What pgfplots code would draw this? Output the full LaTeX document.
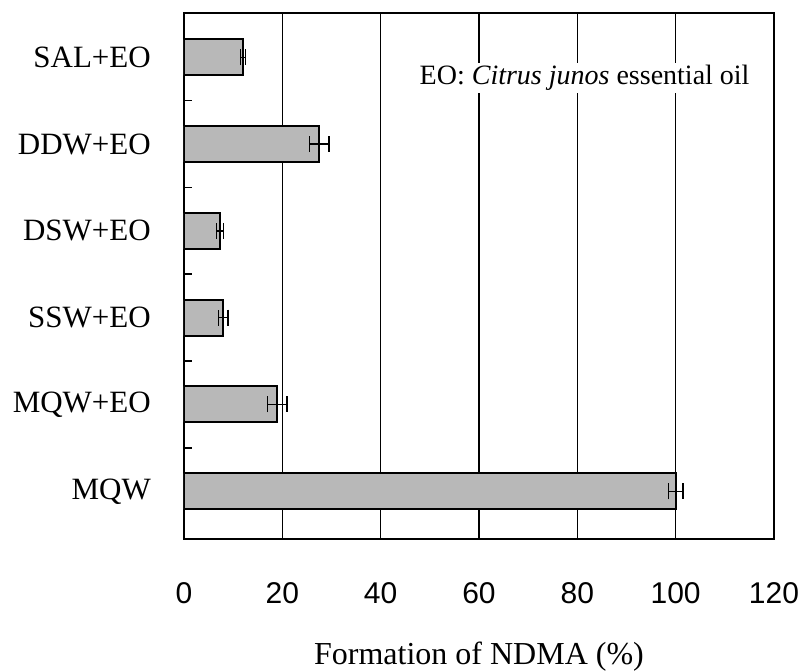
\documentclass[border=0pt]{standalone}
\usepackage{pgfplots}
\pgfplotsset{compat=1.18}
\usepackage{fontspec}
\setmainfont{Liberation Serif}
\setsansfont{Liberation Sans}
\begin{document}
\begin{tikzpicture}
\path[use as bounding box] (-184pt,-132pt) rectangle (620pt,539pt);
\begin{axis}[
 at={(0pt,0pt)}, anchor=south west,
 scale only axis, width=590pt, height=526pt,
 xbar, bar width=36pt,
 xmin=0, xmax=120, ymin=-0.55, ymax=5.51,
 xtick={0,20,...,120},
 ytick={0,...,5},
 yticklabels={MQW, MQW+EO, SSW+EO, DSW+EO, DDW+EO, SAL+EO},
 minor ytick={0.5,1.5,2.5,3.5,4.5},
 major tick length=0pt, minor tick length=8pt,
 tick align=inside, tick pos=left,
 xmajorgrids, grid style={black, line width=1.3pt},
 axis line style={line width=2.2pt},
 every minor tick/.style={line width=1.6pt, black},
 /pgf/number format/assume math mode=true,
 xticklabel style={font=\fontsize{30}{32}\selectfont\sffamily, anchor=center, yshift=-54pt},
 yticklabel style={font=\fontsize{31}{33}\selectfont, anchor=east, inner sep=0pt, xshift=-33pt},
 every axis x label/.style={at={(axis description cs:0.5,0)}, anchor=center, yshift=-118pt},
 xlabel={Formation of NDMA (\%)},
 xlabel style={font=\fontsize{32}{34}\selectfont},
]
\addplot[fill=black!28, draw=black, line width=2pt,
 error bars/.cd, x dir=both, x explicit,
 error bar style={line width=1.5pt, black},
 error mark options={rotate=90, mark size=8pt, line width=1.5pt, black}]
 coordinates {
 (100,0) +- (1.5,0)
 (19,1) +- (2,0)
 (8,2) +- (1,0)
 (7.3,3) +- (0.7,0)
 (27.5,4) +- (2,0)
 (12,5) +- (0.5,0)
 };
\node[anchor=west, fill=white, inner sep=2pt, font=\fontsize{28}{30}\selectfont] at (axis cs:47.5,4.76) {EO: \textit{Citrus junos} essential oil};
\end{axis}
\end{tikzpicture}
\end{document}
